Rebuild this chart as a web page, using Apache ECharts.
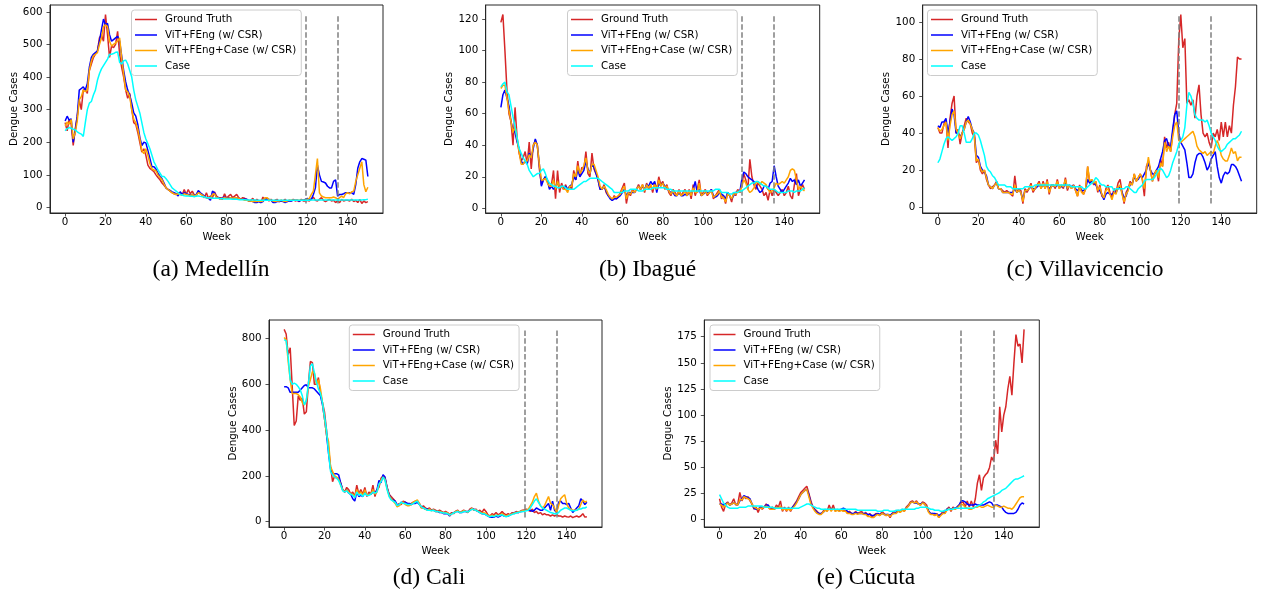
<!DOCTYPE html>
<html><head><meta charset="utf-8">
<script src="https://cdn.jsdelivr.net/npm/echarts@6/dist/echarts.min.js"></script>
<style>html,body{margin:0;padding:0;background:#fff}#c{width:1261px;height:598px}</style>
</head><body><div id="c"></div>
<script>
// ---------- DATA ----------
const weeks = Array.from({length:151},(_,i)=>i);
const xTicks = [0,20,40,60,80,100,120,140];
const splitWeeks = [119,135];
const seriesNames = ['Ground Truth','ViT+FEng (w/ CSR)','ViT+FEng+Case (w/ CSR)','Case'];
const captions = ['(a) Medellín','(b) Ibagué','(c) Villavicencio','(d) Cali','(e) Cúcuta'];
const yTicksMedellin = [0,100,200,300,400,500,600];
const yTicksIbague = [0,20,40,60,80,100,120];
const yTicksVilla = [0,20,40,60,80,100];
const yTicksCali = [0,200,400,600,800];
const yTicksCucuta = [0,25,50,75,100,125,150,175];

const medellinGT = [260,235,270,255,190,240,280,330,300,360, 365,350,420,440,460,470,480,520,530,510, 592,530,460,495,490,500,540,470,430,400, 360,335,350,300,260,255,230,200,170,180, 160,130,120,115,110,100,92,85,75,68, 60,55,50,45,42,40,45,42,38,55, 40,55,42,50,38,35,50,42,38,30, 45,28,35,30,48,35,30,30,25,42, 28,35,40,30,35,40,30,25,30,28, 25,20,22,28,18,25,20,15,32,22, 28,20,25,18,22,25,18,22,20,25, 18,22,20,25,20,22,18,25,20,20, 22,20,25,32,22,20,25,30,22,18, 22,25,20,22,15,20,15,25,20,22, 22,20,25,18,22,15,25,12,20,15,18];
const medellinFEng = [265,280,268,272,200,235,280,360,365,370, 360,380,430,460,470,475,480,510,545,578, 560,565,530,510,515,520,525,510,465,420, 385,360,345,320,290,280,255,215,190,200, 198,175,150,125,125,118,105,95,88,75, 60,55,52,48,45,42,35,48,40,45, 42,40,38,40,38,40,52,45,40,35, 30,28,22,50,45,30,30,25,30,32, 28,30,30,28,30,30,28,25,25,25, 25,20,20,18,15,15,18,15,18,25, 25,25,22,15,15,18,18,20,18,15, 18,20,20,22,22,22,20,22,22,25, 28,25,25,40,60,130,100,80,78,75, 65,60,60,80,85,35,40,40,42,45, 45,45,45,40,70,120,140,150,148,145,95];
const medellinFEngCase = [250,262,255,270,210,230,265,330,340,360, 355,360,420,450,465,470,475,500,520,555, 560,555,510,495,500,505,510,520,460,410, 360,355,340,300,270,260,240,210,175,165, 180,160,135,118,115,112,100,92,85,72, 60,55,50,45,42,40,42,40,38,42, 40,38,36,40,36,38,45,42,38,32, 30,30,28,40,42,30,28,25,28,30, 28,28,30,28,30,30,28,25,25,22, 22,20,20,18,18,18,20,18,20,30, 30,25,22,20,18,20,20,22,20,18, 20,22,22,22,22,22,22,22,22,22, 25,28,40,50,100,150,45,35,32,30, 30,30,30,32,30,25,30,35,30,42, 45,42,48,50,80,100,120,140,70,48,62];
const medellinCase = [235,242,245,243,240,238,232,228,225,218, 260,300,320,325,345,360,390,410,425,435, 445,455,470,470,472,476,477,445,440,450, 452,440,420,400,360,330,310,290,260,230, 210,195,180,160,140,128,115,105,95,95, 88,80,70,60,55,50,45,40,38,36, 35,35,34,34,33,35,35,34,33,32, 30,30,30,28,28,28,28,27,27,26, 26,26,26,25,25,25,24,24,24,24, 23,23,23,23,23,22,22,22,22,22, 22,22,22,22,22,22,22,22,22,22, 22,22,22,22,22,22,22,22,22,22, 22,22,23,23,23,23,23,23,23,23, 23,23,23,23,23,23,23,23,23,23, 23,23,23,23,23,23,23,23,24,24,25];

const ibagueGT = [118,123,100,75,60,55,40,64,45,35, 30,32,36,28,42,25,40,43,40,25, 15,18,20,17,13,15,24,6,24,10, 16,12,15,11,14,12,24,18,30,20, 26,25,36,22,20,35,25,22,18,12, 12,15,10,8,7,5,8,6,7,10, 13,16,3,10,8,12,10,12,15,12, 15,10,16,12,15,10,16,12,20,15, 17,12,15,10,8,12,10,8,12,8, 10,12,8,12,6,15,8,12,18,8, 10,12,8,10,12,6,8,10,12,6, 8,3,10,8,4,10,8,12,10,15, 22,18,12,31,20,15,12,16,14,12, 8,10,5,12,8,12,10,8,10,12, 8,10,14,8,6,15,22,8,12,15,12];
const ibagueFEng = [64,72,75,70,65,55,50,48,42,38, 30,28,30,28,35,32,38,44,40,28, 14,18,20,18,12,14,12,14,16,13, 14,12,14,12,14,15,20,18,25,20, 22,24,30,25,22,28,26,22,18,12, 12,14,11,8,6,5,6,6,7,8, 10,12,8,10,10,10,10,12,14,12, 14,12,15,14,17,15,17,10,16,14, 16,14,13,11,10,10,8,8,10,8, 8,9,8,10,9,12,17,10,12,8, 9,10,10,10,12,8,7,8,10,9, 8,6,10,8,6,8,10,11,10,18, 23,22,20,19,18,17,15,12,10,11, 14,14,12,16,17,27,20,14,12,10, 12,14,16,19,17,18,15,18,14,16,18];
const ibagueFEngCase = [76,78,78,70,62,55,48,52,44,36, 28,28,30,30,34,32,40,42,40,28, 18,18,19,16,14,14,18,12,17,13, 14,12,12,10,14,14,22,20,27,22, 24,27,32,24,22,28,28,24,20,14, 12,14,12,9,7,6,7,7,8,9, 12,14,6,10,9,11,10,12,14,12, 15,11,15,13,15,12,15,12,18,14, 16,13,14,11,9,11,9,8,11,8, 9,11,8,11,8,13,10,10,16,8, 9,11,9,10,11,7,8,9,11,7, 7,4,9,8,6,9,9,11,10,14, 18,16,12,10,11,13,16,17,15,17, 16,15,12,10,11,13,16,15,16,17, 16,18,20,24,25,24,18,12,14,12,11];
const ibagueCase = [77,79,80,74,72,65,58,52,45,38, 35,32,30,28,24,22,20,21,22,22, 24,25,22,18,16,15,14,14,13,13, 14,14,13,12,12,12,12,13,14,15, 16,17,17,18,19,19,19,19,19,18, 17,16,15,14,13,12,10,10,10,10, 10,11,11,11,12,12,12,12,11,11, 11,12,12,12,12,13,13,13,13,13, 13,13,12,12,12,11,11,11,11,11, 11,11,11,11,11,11,11,11,11,11, 11,11,11,11,11,11,12,12,12,10, 10,10,10,9,9,10,10,10,11,11, 12,13,14,15,16,16,17,17,16,15, 14,14,13,12,12,12,11,10,10,10, 10,10,11,11,11,10,11,11,11,12,13];

const villaGT = [43,40,40,45,47,32,48,56,60,40, 42,34,40,44,48,46,45,40,38,24, 26,20,18,20,15,12,10,11,12,14, 10,10,9,8,9,8,7,6,17,8, 10,9,2,10,8,10,13,8,10,12, 14,10,14,10,15,7,12,12,10,15, 10,12,10,16,9,12,10,12,9,6, 12,9,7,10,22,13,15,12,14,8, 12,6,5,10,12,8,5,10,8,13, 15,8,2,8,10,14,12,18,14,16, 18,15,6,22,25,20,14,18,20,14, 26,22,38,32,35,30,40,50,56,90, 104,86,91,56,58,55,58,48,60,66, 50,40,38,40,35,32,40,38,42,36, 46,38,46,38,44,40,55,65,81,80,80];
const villaFEng = [44,43,46,46,48,40,46,53,50,40, 40,38,40,42,46,49,46,42,40,28, 27,22,20,19,17,12,11,10,12,13, 10,10,8,8,8,8,8,8,10,8, 9,8,4,9,9,10,11,10,10,11, 12,11,12,11,12,10,11,12,11,12, 11,11,11,13,10,12,11,12,10,9, 10,9,9,10,15,13,14,13,12,10, 9,7,4,7,8,7,7,8,8,10, 11,8,5,6,10,12,13,16,15,15, 17,16,18,20,24,20,18,18,20,22, 26,30,36,37,33,33,42,50,52,40, 35,33,31,24,16,16,18,24,28,29, 29,27,24,20,22,26,28,30,22,16, 13,17,19,18,19,23,23,22,20,17,14];
const villaFEngCase = [43,41,42,44,46,36,44,50,52,42, 40,37,40,42,46,47,45,42,39,25, 26,21,19,20,16,12,11,10,12,13, 10,10,8,8,8,8,7,7,12,8, 9,8,3,9,9,10,12,9,10,12, 13,10,13,10,14,8,11,12,11,14, 10,12,11,15,10,12,10,12,9,6, 11,8,7,10,22,14,15,13,14,9, 11,7,5,9,10,7,4,8,7,11, 12,7,3,7,9,13,12,18,14,16, 18,15,10,20,27,20,14,18,20,16, 24,22,35,30,33,30,38,44,46,36, 35,36,37,38,39,40,41,38,33,31, 30,29,30,28,29,30,29,33,36,33, 28,26,25,25,28,32,29,30,25,27,27];
const villaCase = [24,26,30,34,37,38,37,36,37,38, 40,44,44,40,35,35,35,37,40,40, 39,36,32,28,22,20,19,17,16,14, 12,12,12,12,11,11,11,10,10,10, 10,10,10,11,11,11,11,11,12,12, 12,12,12,12,12,12,12,12,12,12, 12,12,12,12,12,12,11,11,11,11, 11,11,10,10,11,12,13,14,16,15, 13,12,12,11,11,11,11,9,10,10, 10,10,10,11,11,10,9,8,8,10, 11,12,14,15,15,15,15,16,18,20, 21,20,18,16,17,20,24,27,30,34, 36,38,43,55,62,60,56,50,48,47, 47,47,46,47,44,40,38,36,33,31, 30,31,32,34,35,36,37,37,38,39,41];

const caliGT = [840,820,730,760,590,420,440,550,530,540, 470,480,600,700,695,600,600,630,560,520, 480,400,320,240,175,200,190,190,170,140, 130,150,140,120,130,110,160,120,140,120, 150,110,130,120,160,110,140,150,190,200, 190,150,120,110,100,90,70,80,75,90, 85,80,75,80,85,90,85,80,60,70, 60,55,60,50,55,50,45,50,45,40, 45,40,30,40,35,45,50,40,45,50, 45,40,55,60,50,55,45,50,40,55, 45,30,25,35,30,40,30,35,45,35, 30,35,30,40,35,45,40,45,50,50, 55,50,45,55,40,45,35,40,30,35, 30,30,25,30,25,30,25,25,20,25, 22,20,25,18,22,25,20,25,35,20,22];
const caliFEng = [590,590,585,565,565,565,565,565,575,585, 595,598,585,585,585,580,570,560,550,510, 450,380,300,230,210,210,210,205,170,140, 130,140,125,120,100,90,130,110,115,110, 130,115,120,120,130,125,140,180,170,205, 195,150,120,100,95,90,75,70,85,80, 85,80,80,75,80,80,85,75,65,60, 55,55,50,50,50,45,45,40,40,35, 35,35,25,35,40,45,45,40,40,45, 45,45,50,55,55,50,45,40,35,35, 30,25,20,20,20,25,20,25,30,25, 25,25,30,35,40,40,40,45,45,50, 50,50,50,45,50,60,55,50,50,60, 70,80,50,90,50,40,85,90,80,80, 75,80,60,40,50,60,70,100,90,75,85];
const caliFEngCase = [805,795,700,620,560,560,560,555,545,520, 510,530,590,620,655,650,600,620,580,520, 450,380,350,240,220,200,195,185,160,140, 130,140,130,120,120,110,140,120,130,115, 140,115,120,120,140,120,130,160,180,195, 185,145,115,100,90,80,65,70,80,85, 75,70,70,75,85,90,95,80,60,60, 55,50,55,48,52,45,45,45,42,38, 40,38,28,35,38,45,48,40,42,48, 45,42,50,58,52,52,45,42,35,40, 35,25,25,28,25,30,25,30,35,28, 25,28,30,35,38,40,42,45,48,50, 50,55,70,85,110,125,90,70,60,70, 90,110,80,75,60,40,70,100,110,118, 80,60,55,50,50,50,55,75,95,85,90];
const caliCase = [795,790,720,620,600,605,600,590,575,550, 510,530,600,680,690,650,610,580,560,520, 460,400,300,220,205,195,190,180,160,135, 130,135,125,120,115,105,130,115,120,110, 125,115,115,120,130,125,130,165,175,195, 180,140,110,95,90,85,70,75,85,80, 80,75,75,75,80,85,90,75,65,60, 55,50,50,48,50,45,45,42,40,38, 38,35,30,33,38,42,45,40,40,45, 45,42,48,55,52,50,45,40,35,35, 30,25,22,25,22,28,25,28,30,25, 22,25,28,32,35,38,40,42,45,45, 48,50,60,75,90,100,85,70,60,55, 50,45,40,38,35,35,40,50,55,60, 60,55,50,48,48,50,55,55,60,60,65];

const cucutaGT = [20,12,8,15,17,14,16,20,14,15, 26,18,22,20,22,18,15,10,12,7, 12,10,12,15,12,10,12,10,14,12, 18,8,12,8,12,8,12,15,18,22, 26,28,30,32,25,18,12,10,8,6, 5,8,10,8,14,9,14,8,10,8, 10,8,10,6,8,6,5,8,6,7, 8,5,7,4,6,3,4,6,5,4, 8,6,4,5,2,6,8,6,9,7, 10,8,12,14,17,18,16,18,15,14, 17,16,14,8,5,6,4,6,2,5, 8,6,10,12,8,12,10,12,14,16, 17,12,18,12,18,12,20,35,43,28, 40,43,45,50,60,56,76,63,108,84, 100,108,125,137,119,150,177,166,168,150,182];
const cucutaFEng = [15,15,14,15,16,14,15,16,15,14, 18,20,23,22,21,20,15,11,10,10, 12,12,12,14,14,11,10,10,12,11, 12,10,11,10,10,10,12,14,17,20, 24,26,28,29,24,16,12,9,7,6, 6,7,9,9,11,9,11,9,9,9, 10,11,10,8,7,6,6,7,6,6, 6,6,6,5,5,4,4,5,6,5, 6,5,5,5,4,6,6,7,8,8, 9,9,11,13,16,17,16,16,15,15, 16,15,12,8,6,6,6,5,4,5, 6,7,10,11,10,11,11,12,14,18, 18,17,15,14,14,14,15,14,14,14, 14,15,16,17,16,13,14,14,13,12, 9,7,6,6,6,6,7,10,14,16,15];
const cucutaFEngCase = [15,14,12,14,16,14,15,16,15,14, 19,19,22,21,20,19,15,12,11,10, 11,11,12,13,12,10,10,10,12,11, 13,9,11,9,10,9,11,13,16,20, 24,26,28,29,22,15,11,8,6,5, 5,7,9,8,11,8,11,8,9,8, 9,8,8,6,6,5,5,6,5,6, 6,5,5,3,3,2,2,4,5,4, 6,5,4,5,3,5,6,6,8,7, 9,8,11,13,16,17,16,17,15,14, 16,15,12,7,5,5,4,5,2,4, 6,6,9,11,9,11,10,11,13,15, 14,12,11,10,10,11,12,12,13,12, 12,13,14,13,12,12,14,13,12,12, 13,12,11,11,10,12,15,18,21,22,22];
const cucutaCase = [24,20,16,14,12,11,11,11,11,11, 12,12,12,12,13,13,13,13,13,13, 13,13,12,12,12,12,12,11,11,11, 11,11,11,11,11,11,11,11,11,11, 12,13,14,15,15,14,13,12,11,11, 10,10,10,10,10,10,10,10,10,10, 10,10,10,10,10,10,10,10,9,9, 9,9,9,9,9,9,9,9,8,8, 8,9,9,9,8,8,8,9,9,9, 10,10,10,10,10,10,10,11,11,12, 12,12,12,11,10,10,9,9,9,8, 8,9,9,10,10,10,11,11,11,11, 11,11,11,11,11,11,12,13,14,15, 17,18,20,21,22,23,24,25,26,28, 29,30,32,34,36,38,39,39,40,41,42];

// ---------- LAYOUT / STYLE ----------
const FONT = 'DejaVu Sans';
const FS = 10.3;
const colors = ['#d62728','#0000ff','#ffa500','#00ffff'];
const panels = [
  {vals:[medellinGT,medellinFEng,medellinFEngCase,medellinCase], yTicks:yTicksMedellin, box:[50,5,333,208], leg:[131.5,10], cap:[211,270]},
  {vals:[ibagueGT,ibagueFEng,ibagueFEngCase,ibagueCase], yTicks:yTicksIbague, box:[485.7,5,334,208], leg:[567.5,10], cap:[647.5,270]},
  {vals:[villaGT,villaFEng,villaFEngCase,villaCase], yTicks:yTicksVilla, box:[922.7,5,334,208], leg:[927.5,10], cap:[1085,270]},
  {vals:[caliGT,caliFEng,caliFEngCase,caliCase], yTicks:yTicksCali, box:[269,320,333,207], leg:[349.3,325], cap:[429,578]},
  {vals:[cucutaGT,cucutaFEng,cucutaFEngCase,cucutaCase], yTicks:yTicksCucuta, box:[704.3,320,335,207], leg:[710,325], cap:[866,578]}
];

const option = {animation:false, backgroundColor:'#ffffff', grid:[], xAxis:[], yAxis:[], series:[], legend:[], graphic:[]};
const txt = {fontFamily:FONT, fontSize:FS, color:'#000'};
panels.forEach((p,i)=>{
  const all = [].concat(...p.vals);
  const mn = Math.min(...all), mx = Math.max(...all), pad = 0.05*(mx-mn);
  const gtMin = Math.min(...p.vals[0]), gtMax = Math.max(...p.vals[0]);
  option.grid.push({left:p.box[0], top:p.box[1], width:p.box[2], height:p.box[3], show:true, borderColor:'#262626', borderWidth:1, backgroundColor:'rgba(0,0,0,0)'});
  option.xAxis.push({type:'value', gridIndex:i, min:-7.5, max:157.5,
    name:'Week', nameLocation:'middle', nameGap:19, nameTextStyle:txt,
    axisLine:{show:true, onZero:false, lineStyle:{color:'#262626', width:1}},
    axisTick:{show:true, length:3.5, lineStyle:{color:'#262626', width:0.8}, customValues:xTicks},
    axisLabel:Object.assign({customValues:xTicks, margin:4.5}, txt),
    splitLine:{show:false}});
  option.yAxis.push({type:'value', gridIndex:i, min:mn-pad, max:mx+pad,
    name:'Dengue Cases', nameLocation:'middle', nameGap:26.5, nameTextStyle:txt,
    axisLine:{show:true, onZero:false, lineStyle:{color:'#262626', width:1}},
    axisTick:{show:true, length:3.5, lineStyle:{color:'#262626', width:0.8}, customValues:p.yTicks},
    axisLabel:Object.assign({customValues:p.yTicks, margin:7.5}, txt),
    splitLine:{show:false}});
  p.vals.forEach((arr,k)=>{
    const s = {type:'line', name:seriesNames[k], xAxisIndex:i, yAxisIndex:i,
      data:weeks.map((w,j)=>[w,arr[j]]), showSymbol:false, symbol:'none',
      color:colors[k], lineStyle:{color:colors[k], width:1.5}, z:2+k, silent:true};
    if(k===3){
      s.markLine = {silent:true, symbol:['none','none'], label:{show:false},
        lineStyle:{type:[5.5,2.4], color:'#808080', width:1.5},
        data:splitWeeks.map(w=>[{coord:[w,gtMin]},{coord:[w,gtMax]}])};
    }
    option.series.push(s);
  });
  option.legend.push({data:seriesNames, left:p.leg[0], top:p.leg[1], orient:'vertical',
    icon:'rect', itemWidth:22, itemHeight:1.5, itemGap:2.5, padding:[3,5,3,3.5],
    textStyle:Object.assign({lineHeight:13, padding:[0,0,0,3]}, txt),
    borderColor:'#cccccc', borderWidth:1, borderRadius:3, backgroundColor:'rgba(255,255,255,0.8)',
    selectedMode:false});
  option.graphic.push({type:'text', x:p.cap[0], y:p.cap[1], silent:true,
    style:{text:captions[i], font:'23.5px "Liberation Serif"', fill:'#000', align:'center', verticalAlign:'middle'}});
});
const chart = echarts.init(document.getElementById('c'));
chart.setOption(option);
</script></body></html>
